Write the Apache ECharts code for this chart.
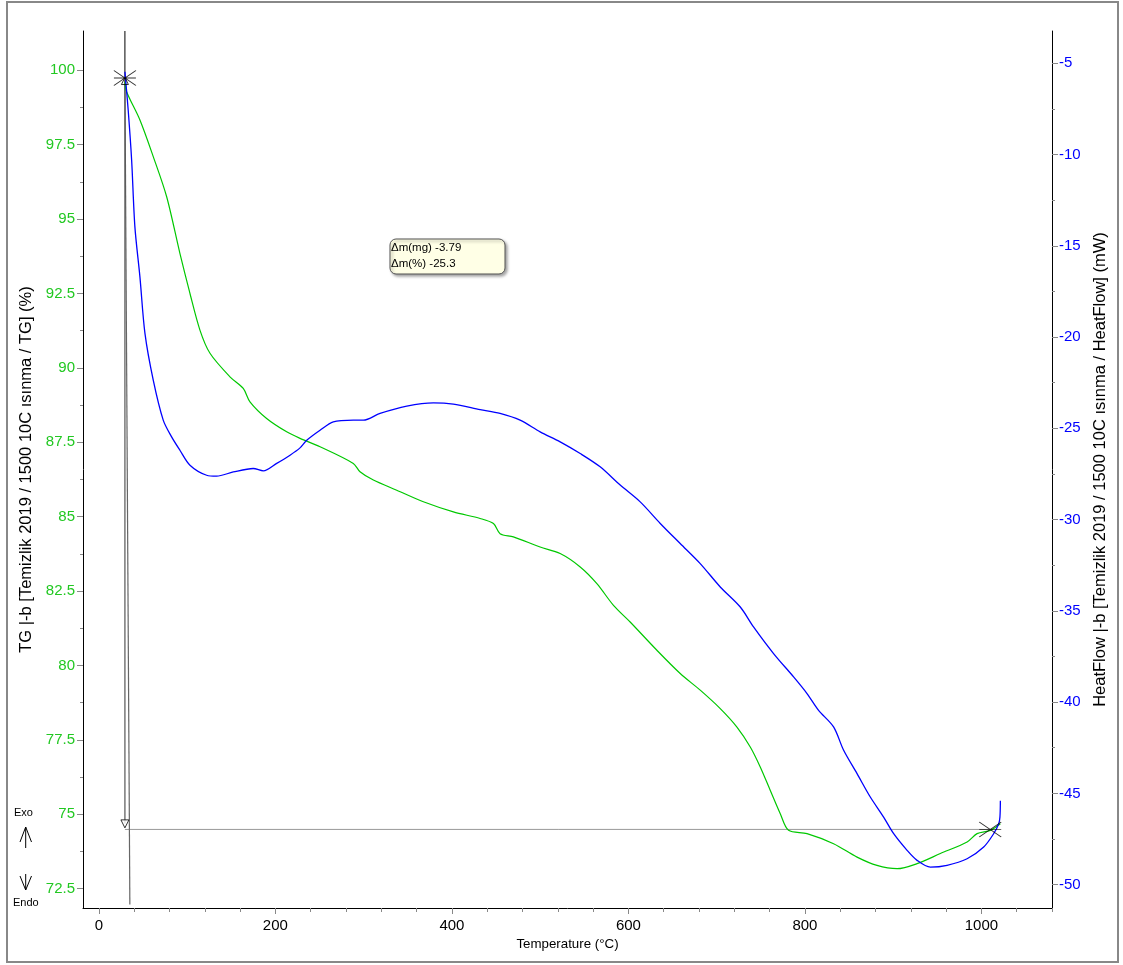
<!DOCTYPE html>
<html>
<head>
<meta charset="utf-8">
<script src="https://cdn.jsdelivr.net/npm/echarts@6/dist/echarts.min.js"></script>
<style>html,body{margin:0;padding:0;background:#fff;}#c{width:1123px;height:965px;}</style>
</head>
<body>
<div id="c"></div>
<script>
// ---- Data ----
const tgTemps = [29.5,31.4,46.5,61.6,76.8,91.8,103.2,114.5,125.9,148.5,163.6,171.2,190.1,212.8,227.9,250.6,288.3,295.9,311.0,337.5,367.7,401.7,432.0,447.1,454.6,469.7,500.0,522.7,545.4,564.3,583.1,602.0,632.3,658.7,681.4,704.1,723.0,738.1,749.4,760.8,772.1,781.5,802.4,832.5,859.1,881.7,904.4,927.1,953.5,983.8,995.1,1010.2,1021.5];
const tgValues = [99.62,99.28,98.33,97.10,95.75,93.85,92.50,91.27,90.49,89.70,89.31,88.86,88.30,87.85,87.63,87.35,86.79,86.51,86.23,85.89,85.50,85.16,84.94,84.77,84.43,84.32,83.98,83.76,83.31,82.75,82.02,81.46,80.51,79.73,79.17,78.55,77.93,77.26,76.59,75.80,75.02,74.46,74.35,74.01,73.56,73.28,73.17,73.34,73.68,74.07,74.35,74.46,74.68];

const hfTemps = [29.5,33.2,37.1,40.8,46.5,52.2,61.6,72.9,82.4,91.8,103.2,122.1,133.4,152.3,174.9,186.3,201.5,216.6,227.9,235.5,250.6,265.6,288.3,299.7,318.6,348.9,379.0,401.7,432.0,454.6,477.3,500.0,522.7,545.4,568.0,590.7,613.4,636.1,658.7,681.4,704.1,726.8,741.8,764.5,787.2,802.4,815.5,832.5,843.9,859.1,874.1,889.2,900.6,915.8,927.1,942.2,961.1,983.8,1002.6,1013.9,1019.6,1021.0,1021.5];
const hfValues = [-5.46,-7.56,-10.30,-13.96,-16.70,-19.80,-22.36,-24.55,-25.47,-26.20,-27.02,-27.57,-27.62,-27.39,-27.20,-27.33,-26.92,-26.47,-26.07,-25.65,-25.10,-24.64,-24.55,-24.55,-24.18,-23.78,-23.60,-23.67,-23.97,-24.18,-24.55,-25.19,-25.74,-26.38,-27.11,-28.11,-29.03,-30.21,-31.31,-32.41,-33.69,-34.79,-35.88,-37.34,-38.62,-39.53,-40.45,-41.36,-42.64,-43.92,-45.20,-46.30,-47.21,-48.12,-48.67,-49.04,-48.94,-48.58,-47.94,-47.21,-46.66,-46.3,-45.4];

const xTicks = [0,200,400,600,800,1000];
const tgTicks = [72.5,75,77.5,80,82.5,85,87.5,90,92.5,95,97.5,100];
const hfTicks = [-50,-45,-40,-35,-30,-25,-20,-15,-10,-5];

// step markers (onset/end of mass loss evaluation)
const stepStart = [29.5, 99.74];
const stepEnd = [1010, 74.49];
const stepLevel = 74.49;
const slantEnd = [35.1, 71.97];
const annotLines = ['\u0394m(mg) -3.79', '\u0394m(%) -25.3'];

// ---- derived ----
const X_MIN = -18, X_MAX = 1080;
const TG_MIN = 71.85, TG_MAX = 101.32;
const HF_MIN = -51.28, HF_MAX = -3.23;
const xMinor = [];
for (let v = 0; v <= 1080; v += 40) if (v % 200 !== 0) xMinor.push(v);
const tgMinor = [];
for (let v = 72.5; v <= 101; v += 1.25) if (Math.abs((v / 2.5) - Math.round(v / 2.5)) > 0.01) tgMinor.push(+v.toFixed(2));
const hfMinor = [];
for (let v = -50; v <= -5; v += 2.5) if (v % 5 !== 0) hfMinor.push(v);

const zip = (a, b) => a.map((t, i) => [t, b[i]]);
const green = '#00c800', greenLbl = '#22c822', blue = '#0000ff';
const FONT = 'Liberation Sans, Arial, sans-serif';

const chart = echarts.init(document.getElementById('c'));
const baseX = { type: 'value', min: X_MIN, max: X_MAX, splitLine: { show: false } };
const baseTG = { type: 'value', min: TG_MIN, max: TG_MAX, splitLine: { show: false } };
const baseHF = { type: 'value', min: HF_MIN, max: HF_MAX, splitLine: { show: false } };

chart.setOption({
  animation: false,
  backgroundColor: '#fff',
  grid: { left: 83, right: 71, top: 31, bottom: 57, containLabel: false },
  xAxis: [
    Object.assign({}, baseX, {
      position: 'bottom',
      name: 'Temperature (\u00b0C)', nameLocation: 'middle', nameGap: 27,
      nameTextStyle: { fontFamily: FONT, fontSize: 13.3, color: '#000' },
      axisLine: { show: true, onZero: false, lineStyle: { color: '#000', width: 1 } },
      axisTick: { show: true, customValues: xTicks, length: 6, lineStyle: { color: '#888' } },
      axisLabel: { customValues: xTicks, margin: 10, fontFamily: FONT, fontSize: 15, color: '#000',
        formatter: v => String(v) }
    }),
    Object.assign({}, baseX, {
      position: 'bottom',
      axisLine: { show: false, onZero: false },
      axisTick: { show: true, customValues: xMinor, length: 4, lineStyle: { color: '#888' } },
      axisLabel: { show: false }
    })
  ],
  yAxis: [
    Object.assign({}, baseTG, {
      position: 'left',
      name: 'TG |-b [Temizlik 2019 / 1500 10C \u0131s\u0131nma / TG] (%)',
      nameLocation: 'middle', nameGap: 42, nameRotate: 90,
      nameTextStyle: { fontFamily: FONT, fontSize: 16.5, color: '#000' },
      axisLine: { show: true, onZero: false, lineStyle: { color: '#000', width: 1 } },
      axisTick: { show: true, customValues: tgTicks, length: 6, lineStyle: { color: '#888' } },
      axisLabel: { customValues: tgTicks, margin: 8, fontFamily: FONT, fontSize: 15, color: greenLbl }
    }),
    Object.assign({}, baseHF, {
      position: 'right',
      name: 'HeatFlow |-b [Temizlik 2019 / 1500 10C \u0131s\u0131nma / HeatFlow] (mW)',
      nameLocation: 'middle', nameGap: 37, nameRotate: 90,
      nameTextStyle: { fontFamily: FONT, fontSize: 16.5, color: '#000' },
      axisLine: { show: true, onZero: false, lineStyle: { color: '#000', width: 1 } },
      axisTick: { show: true, customValues: hfTicks, length: 6, lineStyle: { color: '#888' } },
      axisLabel: { customValues: hfTicks, margin: 7, fontFamily: FONT, fontSize: 15, color: blue }
    }),
    Object.assign({}, baseTG, {
      position: 'left',
      axisLine: { show: false, onZero: false },
      axisTick: { show: true, customValues: tgMinor, length: 3, lineStyle: { color: '#888' } },
      axisLabel: { show: false }
    }),
    Object.assign({}, baseHF, {
      position: 'right',
      axisLine: { show: false, onZero: false },
      axisTick: { show: true, customValues: hfMinor, length: 3, lineStyle: { color: '#888' } },
      axisLabel: { show: false }
    })
  ],
  series: [
    { type: 'line', name: 'step-h', yAxisIndex: 0, symbol: 'none', silent: true,
      lineStyle: { color: '#999', width: 1 }, data: [[stepStart[0], stepLevel], [stepEnd[0] + 3, stepLevel]], z: 1 },
    { type: 'line', name: 'slant', yAxisIndex: 0, symbol: 'none', silent: true,
      lineStyle: { color: '#666', width: 1.2 }, data: [stepStart, slantEnd], z: 1 },
    { type: 'line', name: 'v1-top', yAxisIndex: 0, symbol: 'none', silent: true,
      lineStyle: { color: '#000', width: 1 }, data: [[stepStart[0], TG_MAX], stepStart], z: 2 },
    { type: 'line', name: 'v1-bottom', yAxisIndex: 0, symbol: 'none', silent: true,
      lineStyle: { color: '#555', width: 1.2 }, data: [stepStart, [stepStart[0], stepLevel + 0.2]], z: 1 },
    { type: 'line', name: 'TG', yAxisIndex: 0, symbol: 'none', smooth: 0.3,
      lineStyle: { color: green, width: 1.2 }, data: zip(tgTemps, tgValues), z: 3 },
    { type: 'line', name: 'HeatFlow', yAxisIndex: 1, symbol: 'none', smooth: 0.3,
      lineStyle: { color: blue, width: 1.3 }, data: zip(hfTemps, hfValues), z: 4 },
    { type: 'scatter', yAxisIndex: 0, silent: true, z: 6,
      symbol: 'path://M0,0L22,16M0,16L22,0M0,8L22,8', symbolSize: [22, 15],
      itemStyle: { color: 'none', borderColor: '#000', borderWidth: 1 },
      data: [stepStart, stepEnd] },
    { type: 'scatter', yAxisIndex: 0, silent: true, z: 6,
      symbol: 'triangle', symbolSize: [7, 7], symbolOffset: [0, 3],
      itemStyle: { color: 'none', borderColor: '#000', borderWidth: 1 },
      data: [stepStart] },
    { type: 'scatter', yAxisIndex: 0, silent: true, z: 6,
      symbol: 'triangle', symbolRotate: 180, symbolSize: [8, 8], symbolOffset: [0, -2],
      itemStyle: { color: '#fff', borderColor: '#000', borderWidth: 1 },
      data: [[stepStart[0], stepLevel + 0.12]] }
  ],
  graphic: [
    { type: 'rect', silent: true, shape: { x: 7, y: 2, width: 1111, height: 960 },
      style: { fill: 'none', stroke: '#888', lineWidth: 2 } },
    { type: 'rect', silent: true, shape: { x: 390, y: 239, width: 115, height: 35, r: 6 },
      style: { fill: '#ffffe6', stroke: '#555', lineWidth: 1, shadowBlur: 3, shadowOffsetX: 2, shadowOffsetY: 2, shadowColor: 'rgba(0,0,0,0.35)' } },
    { type: 'text', silent: true, x: 391, y: 248,
      style: { text: annotLines[0], fontFamily: FONT, fontSize: 11.5, fill: '#000', verticalAlign: 'middle' } },
    { type: 'text', silent: true, x: 391, y: 264,
      style: { text: annotLines[1], fontFamily: FONT, fontSize: 11.5, fill: '#000', verticalAlign: 'middle' } },
    { type: 'text', silent: true, x: 14, y: 813,
      style: { text: 'Exo', fontFamily: FONT, fontSize: 11, fill: '#000', verticalAlign: 'middle' } },
    { type: 'text', silent: true, x: 13, y: 903,
      style: { text: 'Endo', fontFamily: FONT, fontSize: 11, fill: '#000', verticalAlign: 'middle' } },
    { type: 'polyline', silent: true, shape: { points: [[25.7, 827], [25.7, 848]] }, style: { stroke: '#000', lineWidth: 1 } },
    { type: 'polyline', silent: true, shape: { points: [[20, 842], [25.7, 827], [31.5, 842]] }, style: { stroke: '#000', lineWidth: 1, fill: 'none' } },
    { type: 'polyline', silent: true, shape: { points: [[25.7, 874], [25.7, 890]] }, style: { stroke: '#000', lineWidth: 1 } },
    { type: 'polyline', silent: true, shape: { points: [[20, 876], [25.7, 890], [31.5, 876]] }, style: { stroke: '#000', lineWidth: 1, fill: 'none' } }
  ]
});
</script>
</body>
</html>
